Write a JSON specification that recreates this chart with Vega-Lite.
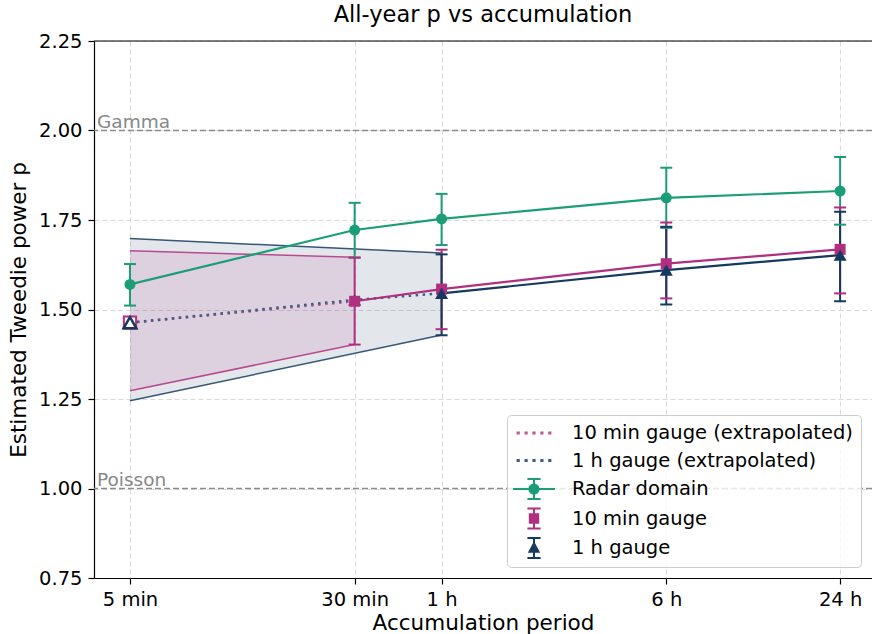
{
  "$schema": "https://vega.github.io/schema/vega-lite/v6.json",
  "width": 778,
  "height": 537,
  "autosize": {"type": "none"},
  "padding": {"left": 94, "top": 41, "right": 0, "bottom": 56},
  "background": "white",
  "title": {"text": "All-year p vs accumulation", "font": "DejaVu Sans", "fontSize": 22.5, "fontWeight": "normal", "color": "#000000", "frame": "group", "baseline": "alphabetic", "offset": -13},
  "config": {
    "view": {"stroke": null},
    "font": "DejaVu Sans",
    "axis": {
      "domainColor": "#000000", "domainWidth": 1.2,
      "tickColor": "#000000", "tickWidth": 1.2, "tickSize": 6,
      "labelPadding": 6, "labelFont": "DejaVu Sans", "labelFontSize": 19.5, "labelColor": "#000000",
      "labelFlush": false, "labelOverlap": false,
      "titleFont": "DejaVu Sans", "titleFontSize": 21.5, "titleFontWeight": "normal", "titleColor": "#000000",
      "grid": true, "gridColor": "#d9d9d9", "gridDash": [5, 3], "gridWidth": 1
    }
  },
  "datasets": {
    "obs": [
      {"series": "Radar domain", "period": 5, "p": 1.570, "lo": 1.511, "hi": 1.627},
      {"series": "Radar domain", "period": 30, "p": 1.722, "lo": 1.645, "hi": 1.798},
      {"series": "Radar domain", "period": 60, "p": 1.753, "lo": 1.680, "hi": 1.823},
      {"series": "Radar domain", "period": 360, "p": 1.812, "lo": 1.728, "hi": 1.896},
      {"series": "Radar domain", "period": 1440, "p": 1.831, "lo": 1.737, "hi": 1.926},
      {"series": "10 min gauge", "period": 30, "p": 1.523, "lo": 1.402, "hi": 1.645},
      {"series": "10 min gauge", "period": 60, "p": 1.557, "lo": 1.445, "hi": 1.667},
      {"series": "10 min gauge", "period": 360, "p": 1.628, "lo": 1.531, "hi": 1.743},
      {"series": "10 min gauge", "period": 1440, "p": 1.668, "lo": 1.545, "hi": 1.785},
      {"series": "1 h gauge", "period": 60, "p": 1.545, "lo": 1.428, "hi": 1.654},
      {"series": "1 h gauge", "period": 360, "p": 1.610, "lo": 1.514, "hi": 1.731},
      {"series": "1 h gauge", "period": 1440, "p": 1.652, "lo": 1.523, "hi": 1.773}
    ],
    "extrap": [
      {"series": "10 min gauge (extrapolated)", "period": 5, "p": 1.463},
      {"series": "10 min gauge (extrapolated)", "period": 30, "p": 1.523},
      {"series": "1 h gauge (extrapolated)", "period": 5, "p": 1.463},
      {"series": "1 h gauge (extrapolated)", "period": 30, "p": 1.527},
      {"series": "1 h gauge (extrapolated)", "period": 60, "p": 1.545}
    ],
    "bands": [
      {"series": "1 h gauge", "period": 5, "lo": 1.245, "hi": 1.698},
      {"series": "1 h gauge", "period": 60, "lo": 1.429, "hi": 1.658},
      {"series": "10 min gauge", "period": 5, "lo": 1.273, "hi": 1.664},
      {"series": "10 min gauge", "period": 30, "lo": 1.402, "hi": 1.646}
    ],
    "refs": [
      {"label": "Gamma", "p": 2.0},
      {"label": "Poisson", "p": 1.0}
    ],
    "legendrows": [
      {"series": "10 min gauge (extrapolated)"},
      {"series": "1 h gauge (extrapolated)"},
      {"series": "Radar domain"},
      {"series": "10 min gauge"},
      {"series": "1 h gauge"}
    ]
  },
  "layer": [
    {
      "data": {"name": "bands"},
      "mark": {"type": "area", "opacity": 0.12},
      "encoding": {
        "x": {"field": "period", "type": "quantitative",
              "scale": {"type": "log", "domain": [3.753, 1857], "nice": false},
              "axis": {"title": "Accumulation period", "titlePadding": 4, "values": [5, 30, 60, 360, 1440],
                       "labelExpr": "datum.value == 5 ? '5 min' : datum.value == 30 ? '30 min' : datum.value == 60 ? '1 h' : datum.value == 360 ? '6 h' : '24 h'"}},
        "y": {"field": "hi", "type": "quantitative",
              "scale": {"domain": [0.75, 2.25], "nice": false, "zero": false},
              "axis": {"title": "Estimated Tweedie power p", "titlePadding": 8, "values": [0.75, 1.0, 1.25, 1.5, 1.75, 2.0, 2.25], "format": ".2f"}},
        "y2": {"field": "lo"},
        "fill": {"field": "series", "type": "nominal", "legend": null,
                 "scale": {"domain": ["Radar domain", "10 min gauge", "1 h gauge", "10 min gauge (extrapolated)", "1 h gauge (extrapolated)"],
                           "range": ["#1b9e77", "#b12f80", "#163a5f", "#c0559a", "#3d5f80"]}}
      }
    },
    {
      "data": {"name": "refs"},
      "mark": {"type": "rule", "color": "#8c8c8c", "strokeDash": [6, 3], "strokeWidth": 1.5},
      "encoding": {"y": {"field": "p", "type": "quantitative"}}
    },
    {
      "data": {"name": "refs"},
      "mark": {"type": "text", "align": "left", "baseline": "alphabetic", "dx": 3, "dy": -2.5, "fontSize": 18.5, "color": "#888888", "font": "DejaVu Sans"},
      "encoding": {
        "x": {"datum": 3.753, "type": "quantitative"},
        "y": {"field": "p", "type": "quantitative"},
        "text": {"field": "label"}
      }
    },
    {
      "data": {"name": "bands"},
      "mark": {"type": "line", "strokeWidth": 1.5, "opacity": 0.85},
      "encoding": {
        "x": {"field": "period", "type": "quantitative"},
        "y": {"field": "hi", "type": "quantitative"},
        "stroke": {"field": "series", "type": "nominal", "legend": null,
                   "scale": {"domain": ["Radar domain", "10 min gauge", "1 h gauge", "10 min gauge (extrapolated)", "1 h gauge (extrapolated)"],
                             "range": ["#1b9e77", "#b12f80", "#163a5f", "#c0559a", "#3d5f80"]}}
      }
    },
    {
      "data": {"name": "bands"},
      "mark": {"type": "line", "strokeWidth": 1.5, "opacity": 0.85},
      "encoding": {
        "x": {"field": "period", "type": "quantitative"},
        "y": {"field": "lo", "type": "quantitative"},
        "stroke": {"field": "series", "type": "nominal", "legend": null}
      }
    },
    {
      "data": {"name": "extrap"},
      "mark": {"type": "line", "strokeWidth": 2.5, "strokeDash": [2.5, 4.5]},
      "encoding": {
        "x": {"field": "period", "type": "quantitative"},
        "y": {"field": "p", "type": "quantitative"},
        "stroke": {"field": "series", "type": "nominal", "legend": null}
      }
    },
    {
      "data": {"name": "obs"},
      "mark": {"type": "line", "strokeWidth": 2.2},
      "encoding": {
        "x": {"field": "period", "type": "quantitative"},
        "y": {"field": "p", "type": "quantitative"},
        "stroke": {"field": "series", "type": "nominal", "legend": null}
      }
    },
    {
      "data": {"name": "obs"},
      "mark": {"type": "rule", "strokeWidth": 2},
      "encoding": {
        "x": {"field": "period", "type": "quantitative"},
        "y": {"field": "lo", "type": "quantitative"},
        "y2": {"field": "hi"},
        "stroke": {"field": "series", "type": "nominal", "legend": null}
      }
    },
    {
      "data": {"name": "obs"},
      "mark": {"type": "tick", "orient": "horizontal", "size": 12, "thickness": 2, "opacity": 1},
      "encoding": {
        "x": {"field": "period", "type": "quantitative"},
        "y": {"field": "lo", "type": "quantitative"},
        "fill": {"field": "series", "type": "nominal", "legend": null}
      }
    },
    {
      "data": {"name": "obs"},
      "mark": {"type": "tick", "orient": "horizontal", "size": 12, "thickness": 2, "opacity": 1},
      "encoding": {
        "x": {"field": "period", "type": "quantitative"},
        "y": {"field": "hi", "type": "quantitative"},
        "fill": {"field": "series", "type": "nominal", "legend": null}
      }
    },
    {
      "data": {"name": "extrap"},
      "transform": [{"filter": "datum.period == 30 && datum.series == '1 h gauge (extrapolated)'"}],
      "mark": {"type": "point", "shape": "triangle-up", "filled": true, "size": 169, "opacity": 1, "color": "#163a5f"},
      "encoding": {
        "x": {"field": "period", "type": "quantitative"},
        "y": {"field": "p", "type": "quantitative"}
      }
    },
    {
      "data": {"name": "obs"},
      "transform": [{"filter": "datum.series == 'Radar domain'"}],
      "mark": {"type": "point", "shape": "circle", "filled": true, "size": 121, "opacity": 1},
      "encoding": {
        "x": {"field": "period", "type": "quantitative"},
        "y": {"field": "p", "type": "quantitative"},
        "fill": {"field": "series", "type": "nominal", "legend": null}
      }
    },
    {
      "data": {"name": "obs"},
      "transform": [{"filter": "datum.series == '10 min gauge'"}],
      "mark": {"type": "point", "shape": "square", "filled": true, "size": 121, "opacity": 1},
      "encoding": {
        "x": {"field": "period", "type": "quantitative"},
        "y": {"field": "p", "type": "quantitative"},
        "fill": {"field": "series", "type": "nominal", "legend": null}
      }
    },
    {
      "data": {"name": "obs"},
      "transform": [{"filter": "datum.series == '1 h gauge'"}],
      "mark": {"type": "point", "shape": "triangle-up", "filled": true, "size": 169, "opacity": 1},
      "encoding": {
        "x": {"field": "period", "type": "quantitative"},
        "y": {"field": "p", "type": "quantitative"},
        "fill": {"field": "series", "type": "nominal", "legend": null}
      }
    },
    {
      "data": {"name": "extrap"},
      "transform": [{"filter": "datum.period == 5 && datum.series == '10 min gauge (extrapolated)'"}],
      "mark": {"type": "point", "shape": "square", "filled": false, "fill": "white", "stroke": "#b12f80", "strokeWidth": 2, "size": 150, "opacity": 1},
      "encoding": {
        "x": {"field": "period", "type": "quantitative"},
        "y": {"field": "p", "type": "quantitative"}
      }
    },
    {
      "data": {"name": "extrap"},
      "transform": [{"filter": "datum.period == 5 && datum.series == '1 h gauge (extrapolated)'"}],
      "mark": {"type": "point", "shape": "triangle-up", "filled": false, "fill": "white", "stroke": "#163a5f", "strokeWidth": 2.5, "size": 165, "opacity": 1},
      "encoding": {
        "x": {"field": "period", "type": "quantitative"},
        "y": {"field": "p", "type": "quantitative"}
      }
    },
    {
      "data": {"values": [{}]},
      "mark": {"type": "rule", "color": "#000000", "strokeWidth": 1.2},
      "encoding": {"y": {"datum": 2.25, "type": "quantitative"}}
    },
    {
      "data": {"name": "legendrows"},
      "mark": {"type": "point", "filled": true, "opacity": 0},
      "encoding": {
        "color": {"field": "series", "type": "nominal",
                  "scale": {"domain": ["10 min gauge (extrapolated)", "1 h gauge (extrapolated)", "Radar domain", "10 min gauge", "1 h gauge"],
                            "range": ["#c0559a", "#3d5f80", "#1b9e77", "#b12f80", "#163a5f"]},
                  "legend": {"title": null, "orient": "none", "legendX": 413, "legendY": 374,
                             "fillColor": "rgba(255,255,255,0.8)", "strokeColor": "#cccccc", "cornerRadius": 4, "padding": 8,
                             "labelFont": "DejaVu Sans", "labelFontSize": 19.5, "labelColor": "#000000", "labelLimit": 500, "labelOffset": 28, "symbolOffset": 9,
                             "symbolSize": 400, "symbolStrokeWidth": 0, "symbolOpacity": 1, "rowPadding": 7.5}},
        "shape": {"field": "series", "type": "nominal",
                  "scale": {"domain": ["10 min gauge (extrapolated)", "1 h gauge (extrapolated)", "Radar domain", "10 min gauge", "1 h gauge"],
                            "range": [
                              "M-1.74,-0.15H-1.42V0.15H-1.74Z M-0.95,-0.15H-0.63V0.15H-0.95Z M-0.16,-0.15H0.16V0.15H-0.16Z M0.63,-0.15H0.95V0.15H0.63Z M1.42,-0.15H1.74V0.15H1.42Z",
                              "M-1.74,-0.15H-1.42V0.15H-1.74Z M-0.95,-0.15H-0.63V0.15H-0.95Z M-0.16,-0.15H0.16V0.15H-0.16Z M0.63,-0.15H0.95V0.15H0.63Z M1.42,-0.15H1.74V0.15H1.42Z",
                              "M-2.1,-0.1H2.1V0.1H-2.1Z M-0.1,-1H0.1V1H-0.1Z M-0.66,-1.1H0.66V-0.9H-0.66Z M-0.66,0.9H0.66V1.1H-0.66Z M-0.56,0A0.56,0.56,0,1,1,0.56,0A0.56,0.56,0,1,1,-0.56,0Z",
                              "M-0.1,-1H0.1V1H-0.1Z M-0.66,-1.1H0.66V-0.9H-0.66Z M-0.66,0.9H0.66V1.1H-0.66Z M-0.52,-0.52H0.52V0.52H-0.52Z",
                              "M-0.1,-1H0.1V1H-0.1Z M-0.66,-1.1H0.66V-0.9H-0.66Z M-0.66,0.9H0.66V1.1H-0.66Z M0,-0.68L0.62,0.48L-0.62,0.48Z"
                            ]},
                  "legend": {"title": null, "orient": "none", "legendX": 413, "legendY": 374,
                             "fillColor": "rgba(255,255,255,0.8)", "strokeColor": "#cccccc", "cornerRadius": 4, "padding": 8,
                             "labelFont": "DejaVu Sans", "labelFontSize": 19.5, "labelColor": "#000000", "labelLimit": 500, "labelOffset": 28, "symbolOffset": 9,
                             "symbolSize": 400, "symbolStrokeWidth": 0, "symbolOpacity": 1, "rowPadding": 7.5}}
      }
    }
  ]
}
